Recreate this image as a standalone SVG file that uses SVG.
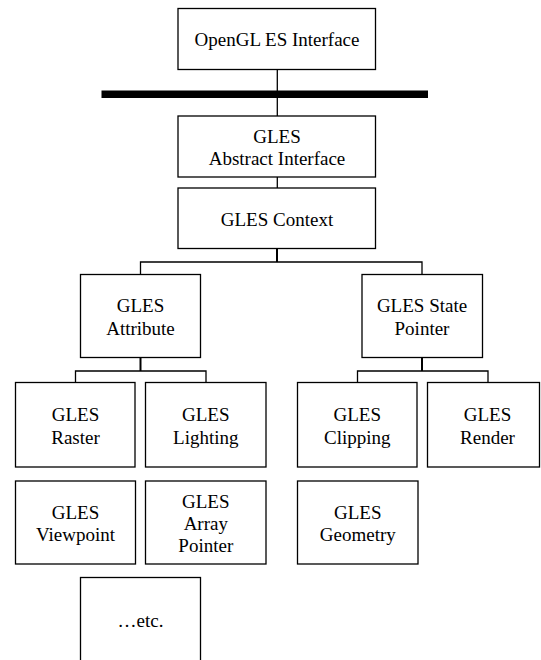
<svg xmlns="http://www.w3.org/2000/svg" width="541" height="660" viewBox="0 0 541 660">
<style>
.box{fill:#fff;stroke:#000;stroke-width:1.3}
.t{font-size:19px;fill:#000;text-anchor:middle}
.c{fill:none;stroke:#000;stroke-width:1.3}
.c2{fill:none;stroke:#000;stroke-width:2}
</style>
<rect width="541" height="660" fill="#fff"/>
<g id="connectors">
<line class="c" x1="277.3" y1="69.5" x2="277.3" y2="116"/>
<line class="c" x1="277.3" y1="177" x2="277.3" y2="188"/>
<line class="c2" x1="277" y1="248.5" x2="277" y2="262"/>
<polyline class="c" points="140.5,274.5 140.5,262 422,262 422,274.5"/>
<line class="c2" x1="140.5" y1="357.5" x2="140.5" y2="371"/>
<polyline class="c" points="75.5,382.5 75.5,371 206,371 206,382.5"/>
<line class="c2" x1="422" y1="357.5" x2="422" y2="371"/>
<polyline class="c" points="357.5,382.5 357.5,371 488,371 488,382.5"/>
</g>
<g id="bus"><rect x="101.5" y="90.5" width="326.5" height="7.5" fill="#000"/></g>
<g font-family="Liberation Serif, Times New Roman, serif">
<g id="opengl-es-interface"><rect class="box" x="178" y="8.5" width="197.5" height="61"/><text class="t" x="277" y="46">OpenGL ES Interface</text></g>
<g id="gles-abstract-interface"><rect class="box" x="178" y="116" width="197.5" height="61"/><text class="t" x="277" y="142.5">GLES</text><text class="t" x="277" y="165">Abstract Interface</text></g>
<g id="gles-context"><rect class="box" x="178" y="188" width="197.5" height="60.5"/><text class="t" x="277" y="226">GLES Context</text></g>
<g id="gles-attribute"><rect class="box" x="80.5" y="274.5" width="120" height="83"/><text class="t" x="140.5" y="312">GLES</text><text class="t" x="140.5" y="335">Attribute</text></g>
<g id="gles-state-pointer"><rect class="box" x="362" y="274.5" width="120.5" height="83"/><text class="t" x="422" y="312">GLES State</text><text class="t" x="422" y="335">Pointer</text></g>
<g id="gles-raster"><rect class="box" x="15.5" y="382.5" width="119.5" height="84.5"/><text class="t" x="75.5" y="420.5">GLES</text><text class="t" x="75.5" y="443.5">Raster</text></g>
<g id="gles-lighting"><rect class="box" x="145.5" y="382.5" width="120.5" height="84.5"/><text class="t" x="205.8" y="420.5">GLES</text><text class="t" x="205.8" y="443.5">Lighting</text></g>
<g id="gles-clipping"><rect class="box" x="297.5" y="382.5" width="119.5" height="84.5"/><text class="t" x="357.3" y="420.5">GLES</text><text class="t" x="357.3" y="443.5">Clipping</text></g>
<g id="gles-render"><rect class="box" x="427.5" y="382.5" width="112" height="84.5"/><text class="t" x="487.5" y="420.5">GLES</text><text class="t" x="487.5" y="443.5">Render</text></g>
<g id="gles-viewpoint"><rect class="box" x="15.5" y="481" width="120" height="83"/><text class="t" x="75.5" y="518.5">GLES</text><text class="t" x="75.5" y="541">Viewpoint</text></g>
<g id="gles-array-pointer"><rect class="box" x="145.5" y="481" width="120.5" height="83"/><text class="t" x="205.8" y="507.5">GLES</text><text class="t" x="205.8" y="529.5">Array</text><text class="t" x="205.8" y="552">Pointer</text></g>
<g id="gles-geometry"><rect class="box" x="297.5" y="481" width="120.5" height="83"/><text class="t" x="357.8" y="518.5">GLES</text><text class="t" x="357.8" y="541">Geometry</text></g>
<g id="etc"><rect class="box" x="80.5" y="577.5" width="120" height="90"/><text class="t" x="140.5" y="626.5">…etc.</text></g>
</g>
</svg>
